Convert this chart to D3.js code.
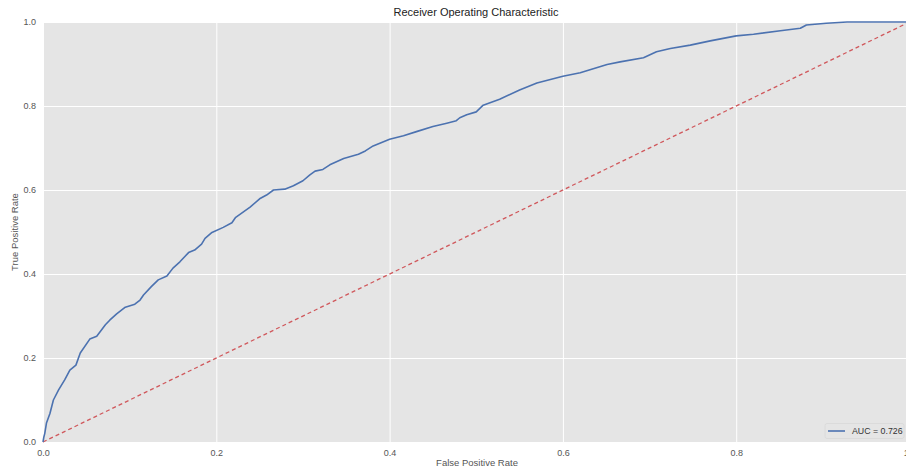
<!DOCTYPE html>
<html><head><meta charset="utf-8">
<script src="https://cdn.jsdelivr.net/npm/d3@7"></script>
<style>body{margin:0;background:#fff}svg{display:block}text{font-family:"Liberation Sans",Arial,sans-serif}</style>
</head><body>
<svg id="c" width="906" height="469"></svg>
<script>
const fpr = [0,0.001,0.002,0.004,0.008,0.012,0.018,0.025,0.031,0.038,0.043,0.054,0.062,0.072,0.077,0.085,0.095,0.106,0.112,0.116,0.125,0.133,0.143,0.150,0.158,0.168,0.175,0.183,0.187,0.195,0.208,0.218,0.222,0.239,0.250,0.258,0.266,0.279,0.289,0.300,0.308,0.314,0.323,0.331,0.347,0.364,0.372,0.381,0.400,0.416,0.431,0.450,0.466,0.477,0.481,0.489,0.500,0.508,0.527,0.550,0.570,0.600,0.620,0.651,0.666,0.693,0.708,0.724,0.747,0.770,0.800,0.820,0.851,0.874,0.881,0.904,0.928,0.970,1.0];
const tpr = [0,0.012,0.020,0.045,0.068,0.100,0.124,0.148,0.171,0.183,0.212,0.245,0.252,0.279,0.290,0.305,0.321,0.328,0.338,0.350,0.370,0.386,0.395,0.414,0.429,0.451,0.457,0.471,0.485,0.499,0.511,0.522,0.534,0.559,0.579,0.588,0.600,0.602,0.610,0.622,0.636,0.645,0.649,0.660,0.675,0.685,0.693,0.705,0.721,0.729,0.739,0.751,0.759,0.765,0.772,0.779,0.786,0.802,0.816,0.838,0.855,0.871,0.879,0.899,0.905,0.915,0.929,0.937,0.945,0.955,0.967,0.971,0.979,0.985,0.993,0.997,1.0,1.0,1.0];
const diagonal = [0,1];
const xTicks = [0,0.2,0.4,0.6,0.8,1.0];
const yTicks = [0,0.2,0.4,0.6,0.8,1.0];
const aucLabel = "AUC = 0.726";

const svg = d3.select("#c");
const m = {l:43, t:22};
const W = 866.5, H = 420;
const x = d3.scaleLinear().domain([0,1]).range([m.l, m.l+W]);
const y = d3.scaleLinear().domain([0,1]).range([m.t+H, m.t]);

svg.append("rect").attr("x",x(0)).attr("y",y(1)).attr("width",W).attr("height",H).attr("fill","#e5e5e5");

const gx = svg.append("g").attr("transform",`translate(0,${y(0)})`)
  .call(d3.axisBottom(x).tickValues(xTicks).tickFormat(d3.format(".1f")).tickSize(-H).tickPadding(6));
const gy = svg.append("g").attr("transform",`translate(${x(0)},0)`)
  .call(d3.axisLeft(y).tickValues(yTicks).tickFormat(d3.format(".1f")).tickSize(-W).tickPadding(7));
[gx,gy].forEach(g=>{
  g.select(".domain").remove();
  g.selectAll(".tick line").attr("stroke","#ffffff").attr("stroke-width",1);
  g.selectAll(".tick text").attr("fill","#555").attr("font-size","9px").attr("font-family","'Liberation Sans',Arial,sans-serif");
});
gx.selectAll(".tick text").attr("dy","0.9em");

svg.append("line")
  .attr("x1",x(diagonal[0])).attr("y1",y(diagonal[0]))
  .attr("x2",x(diagonal[1])).attr("y2",y(diagonal[1]))
  .attr("stroke","#d0585c").attr("stroke-width",1.3).attr("stroke-dasharray","4,3");

const pts = fpr.map((f,i)=>[f,tpr[i]]);
svg.append("path").datum(pts)
  .attr("d",d3.line().x(d=>x(d[0])).y(d=>y(d[1])))
  .attr("fill","none").attr("stroke","#4c72b0").attr("stroke-width",1.6).attr("stroke-linejoin","round");

// legend
const lg = svg.append("g");
lg.append("rect").attr("x",825).attr("y",423.5).attr("width",79).attr("height",15).attr("rx",2)
  .attr("fill","#e5e5e5").attr("stroke","#d8d8d8").attr("stroke-width",0.8);
lg.append("line").attr("x1",828).attr("x2",845).attr("y1",431).attr("y2",431).attr("stroke","#4c72b0").attr("stroke-width",1.6);
lg.append("text").attr("x",852).attr("y",434).attr("font-size","8.8px").attr("fill","#333").text(aucLabel);

svg.append("text").attr("x",476).attr("y",16).attr("text-anchor","middle").attr("font-size","11px").attr("fill","#222").text("Receiver Operating Characteristic");
svg.append("text").attr("x",477).attr("y",466).attr("text-anchor","middle").attr("font-size","9.5px").attr("fill","#555").text("False Positive Rate");
svg.append("text").attr("transform","translate(18,232) rotate(-90)").attr("text-anchor","middle").attr("font-size","9.5px").attr("fill","#555").text("True Positive Rate");
</script>
</body></html>
